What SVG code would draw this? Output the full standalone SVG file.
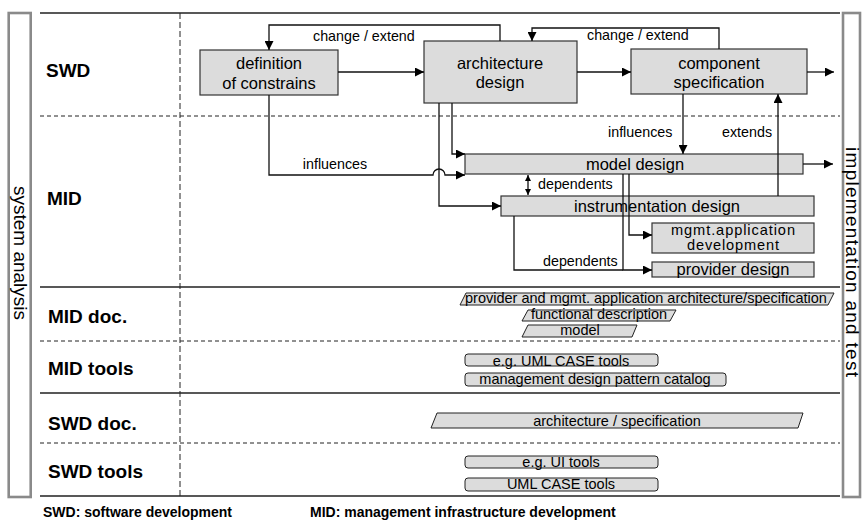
<svg xmlns="http://www.w3.org/2000/svg" width="862" height="525" viewBox="0 0 862 525">
<style>
text{font-family:"Liberation Sans",Arial,sans-serif;fill:#000}
.row{font-size:19px;font-weight:bold}
.side{font-size:19px}
.nd{fill:#dcdcdc;stroke:#333;stroke-width:1.2}
.nt{font-size:16.5px;text-anchor:middle}
.nts{font-size:14.6px;text-anchor:middle}
.doc{fill:#dcdcdc;stroke:#222;stroke-width:1}
.dt{font-size:14.5px;text-anchor:middle}
.lbl{font-size:14.3px}
.grid{stroke:#222;stroke-width:1.3;fill:none}
.dash{stroke:#222;stroke-width:1;stroke-dasharray:4 3;fill:none}
.vdash{stroke:#222;stroke-width:1;stroke-dasharray:6 3;fill:none}
.c{stroke:#111;stroke-width:1.3;fill:none}
.a{marker-end:url(#arr)}
.foot{font-size:14px;font-weight:bold}
</style>
<defs>
<marker id="arr" viewBox="0 0 10 10" refX="10" refY="5" markerWidth="10" markerHeight="9" markerUnits="userSpaceOnUse" orient="auto"><path d="M0,0 L10,5 L0,10 z" fill="#000"/></marker>
<marker id="sarr" viewBox="0 0 10 10" refX="10" refY="5" markerWidth="6" markerHeight="6" markerUnits="userSpaceOnUse" orient="auto-start-reverse"><path d="M0,0 L10,5 L0,10 z" fill="#000"/></marker>
</defs>
<rect x="0" y="0" width="862" height="525" fill="#fff"/>
<g id="frame">
<rect x="8.7" y="13" width="22" height="484" fill="#fff" stroke="#8a8a8a" stroke-width="2.6"/>
<rect x="843" y="13" width="17" height="484" fill="#fff" stroke="#8a8a8a" stroke-width="2.6"/>
<text class="side" transform="translate(20,253) rotate(90)" x="0" y="6" text-anchor="middle">system analysis</text>
<text class="side" transform="translate(852,262) rotate(90)" x="0" y="6" text-anchor="middle" textLength="230">implementation and test</text>
<path class="grid" d="M40,13 H840 M40,287 H840 M40,393 H840 M40,496 H840"/>
<path class="dash" d="M40,116 H840 M40,341 H840 M40,443 H840"/>
<path class="vdash" d="M180,13 V496"/>
<text class="row" x="46" y="77">SWD</text>
<text class="row" x="47" y="205">MID</text>
<text class="row" x="48" y="323">MID doc.</text>
<text class="row" x="48" y="375">MID tools</text>
<text class="row" x="48" y="430">SWD doc.</text>
<text class="row" x="48" y="478">SWD tools</text>
<text class="foot" x="43" y="517">SWD: software development</text>
<text class="foot" x="310" y="517">MID: management infrastructure development</text>
</g>
<g id="definition">
<rect class="nd" x="200" y="50" width="138" height="45"/>
<text class="nt" x="269" y="69">definition</text>
<text class="nt" x="269" y="89">of constrains</text>
</g>
<g id="architecture">
<rect class="nd" x="424" y="41" width="153" height="62"/>
<text class="nt" x="500" y="69">architecture</text>
<text class="nt" x="500" y="88">design</text>
</g>
<g id="component">
<rect class="nd" x="631" y="49" width="176" height="45"/>
<text class="nt" x="719" y="69">component</text>
<text class="nt" x="719" y="88">specification</text>
</g>
<g id="model">
<rect class="nd" x="465" y="154" width="338" height="20"/>
<text class="nt" x="635" y="170">model design</text>
</g>
<g id="instrumentation">
<rect class="nd" x="501" y="196" width="313" height="20"/>
<text class="nt" x="657" y="212">instrumentation design</text>
</g>
<g id="mgmtapp">
<rect class="nd" x="652" y="223" width="162" height="30"/>
<text class="nts" x="733" y="235" textLength="124">mgmt.application</text>
<text class="nts" x="733" y="250" textLength="92">development</text>
</g>
<g id="provider">
<rect class="nd" x="652" y="262" width="162" height="15"/>
<text class="nt" x="733" y="275">provider design</text>
</g>
<g id="connectors">
<path class="c a" d="M338,72 H424"/>
<path class="c a" d="M577,72 H631"/>
<path class="c a" d="M807,72 H834"/>
<path class="c a" d="M500,41 V25 H269 V50"/>
<path class="c a" d="M719,49 V28 H532 V41"/>
<path class="c a" d="M269,95 V175 H433 A6,6 0 0 1 445,175 H465"/>
<path class="c a" d="M452,103 V154 H465"/>
<path class="c a" d="M439,103 V206 H501"/>
<path class="c a" d="M683,94 V154"/>
<path class="c a" d="M778,196 V94"/>
<path class="c a" d="M803,164 H833"/>
<path class="c" d="M528,175 V195" marker-start="url(#sarr)" marker-end="url(#sarr)"/>
<path class="c a" d="M629,174 V235 H652"/>
<path class="c a" d="M623,174 V270 H652"/>
<path class="c" d="M514,216 V270 H623"/>
<text class="lbl" x="313" y="41">change / extend</text>
<text class="lbl" x="587" y="40">change / extend</text>
<text class="lbl" x="335" y="169" text-anchor="middle">influences</text>
<text class="lbl" x="608" y="137">influences</text>
<text class="lbl" x="722" y="137">extends</text>
<text class="lbl" x="538" y="189">dependents</text>
<text class="lbl" x="543" y="266">dependents</text>
</g>
<g id="mid-doc">
<polygon class="doc" points="466,293 834,293 828,305 460,305"/>
<text class="dt" x="646" y="303">provider and mgmt. application architecture/specification</text>
<polygon class="doc" points="528,310 676,310 670,321 522,321"/>
<text class="dt" x="599" y="319">functional description</text>
<polygon class="doc" points="528,325 637,325 632,337 522,337"/>
<text class="dt" x="580" y="335">model</text>
</g>
<g id="mid-tools">
<rect class="doc" x="465" y="354" width="193" height="12" rx="3"/>
<text class="dt" x="561" y="366">e.g. UML CASE tools</text>
<rect class="doc" x="465" y="373" width="261" height="13" rx="3"/>
<text class="dt" x="595" y="384">management design pattern catalog</text>
</g>
<g id="swd-doc">
<polygon class="doc" points="437,413 803,413 798,428 431,428"/>
<text class="dt" x="617" y="426">architecture / specification</text>
</g>
<g id="swd-tools">
<rect class="doc" x="465" y="456" width="193" height="12" rx="3"/>
<text class="dt" x="561" y="467">e.g. UI tools</text>
<rect class="doc" x="465" y="478" width="193" height="13" rx="3"/>
<text class="dt" x="561" y="489">UML CASE tools</text>
</g>
</svg>
